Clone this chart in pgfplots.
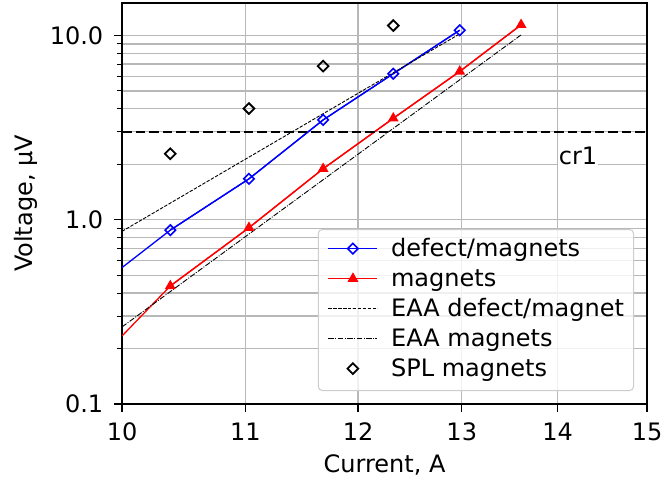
\documentclass[border=0pt]{standalone}
\usepackage{pgfplots}
\pgfplotsset{compat=1.18}
\usepackage{fontspec}
\setmainfont{DejaVu Sans}
\definecolor{gridgray}{HTML}{B8B8B8}
\definecolor{leggray}{HTML}{CCCCCC}
\begin{document}
\fontsize{24bp}{28.8bp}\selectfont
\begin{tikzpicture}
\begin{axis}[
  scale only axis, width=525bp, height=401bp,
  xmode=log, ymode=log,
  xmin=10, xmax=15, ymin=0.1, ymax=15,
  xtick={10,11,12,13,14,15}, xticklabels={10,11,12,13,14,15},
  minor xtick={},
  ytick={0.1,1,10}, yticklabels={0.1,1.0,10.0},
  minor ytick={0.2,0.3,0.4,0.5,0.6,0.7,0.8,0.9,2,3,4,5,6,7,8,9},
  xmajorgrids, ymajorgrids, yminorgrids,
  major grid style={gridgray, line width=1.3bp},
  minor grid style={gridgray, line width=1.3bp},
  tick pos=left, tick align=outside,
  major tick length=8bp, minor tick length=5bp,
  every tick/.style={black},
  major tick style={line width=1.3bp},
  minor tick style={line width=1bp},
  axis line style={line width=1.3bp},
  /pgf/number format/assume math mode=true,
  xticklabel style={anchor=north, inner sep=0pt, yshift=-10.7bp},
  yticklabel style={anchor=east, inner sep=0pt, xshift=-10.7bp},
  xlabel={Current, A}, ylabel={Voltage, μV},
  every axis x label/.style={at={(axis description cs:0.5,0)}, anchor=base, yshift=-68.7bp},
  every axis y label/.style={at={(axis description cs:-0.1705,0.5)}, rotate=90, anchor=base},
  legend style={
    at={(axis description cs:0.9752,0.0324)}, anchor=south east,
    draw=leggray, line width=1bp, rounded corners=4bp,
    fill=white, fill opacity=0.8, draw opacity=1, text opacity=1,
    inner xsep=9.5bp, inner ysep=8.5bp,
    row sep=6bp, column sep=0pt,
    cells={anchor=base west},
    nodes={inner sep=0pt, text height=18bp, text depth=6bp},
  },
  legend image code/.code={
    \draw[mark repeat=2, mark phase=2, sharp corners, fill opacity=1, #1] plot coordinates {(-3bp,7.4bp) (21.5bp,7.4bp) (46bp,7.4bp)};
    \path (59bp,0bp);
  },
]
\addplot[blue, line width=1.3bp, forget plot] coordinates {(10,0.55) (10.38,0.878) (11.03,1.667) (11.68,3.48) (12.33,6.20) (12.98,10.68)};
\addplot[red, line width=1.3bp, forget plot] coordinates {(10,0.234) (10.38,0.437) (11.03,0.905) (11.68,1.89) (12.33,3.55) (12.98,6.38) (13.61,11.42)};
\addplot[blue, line width=1.3bp, mark=square, mark size=3.7bp, mark options={rotate=45, solid, fill=white, line width=1.6bp}] coordinates {(10.38,0.878) (11.03,1.667) (11.68,3.48) (12.33,6.20) (12.98,10.68)};
\addlegendentry{defect/magnets}
\addplot[red, line width=1.3bp, mark=triangle*, mark size=5bp, mark options={solid}] coordinates {(10.38,0.437) (11.03,0.905) (11.68,1.89) (12.33,3.55) (12.98,6.38) (13.61,11.42)};
\addlegendentry{magnets}
\addplot[black, line width=0.9bp, dash pattern=on 3.4bp off 1.5bp] coordinates {(10,0.865) (12.98,10.2)};
\addlegendentry{EAA defect/magnet}
\addplot[black, line width=0.9bp, dash pattern=on 5.5bp off 1.5bp on 0.9bp off 1.5bp] coordinates {(10,0.262) (13.61,10.07)};
\addlegendentry{EAA magnets}
\addplot[black, only marks, mark=square, mark size=3.8bp, mark options={rotate=45, line width=1.8bp}] coordinates {(10.38,2.28) (11.03,4.01) (11.68,6.82) (12.33,11.31)};
\addlegendentry{SPL magnets}
\addplot[black, line width=2.4bp, dash pattern=on 9.5bp off 4bp, forget plot] coordinates {(10,3) (15,3)};
\node[anchor=base west, fill=white, inner xsep=1bp, inner ysep=0pt, text height=19bp, text depth=5bp] at (axis cs:14,2) {cr1};
\end{axis}
\pgfresetboundingbox
\path[use as bounding box] ([xshift=-122bp,yshift=-77bp]current axis.south west) rectangle ++(662bp,481bp);
\end{tikzpicture}
\end{document}
